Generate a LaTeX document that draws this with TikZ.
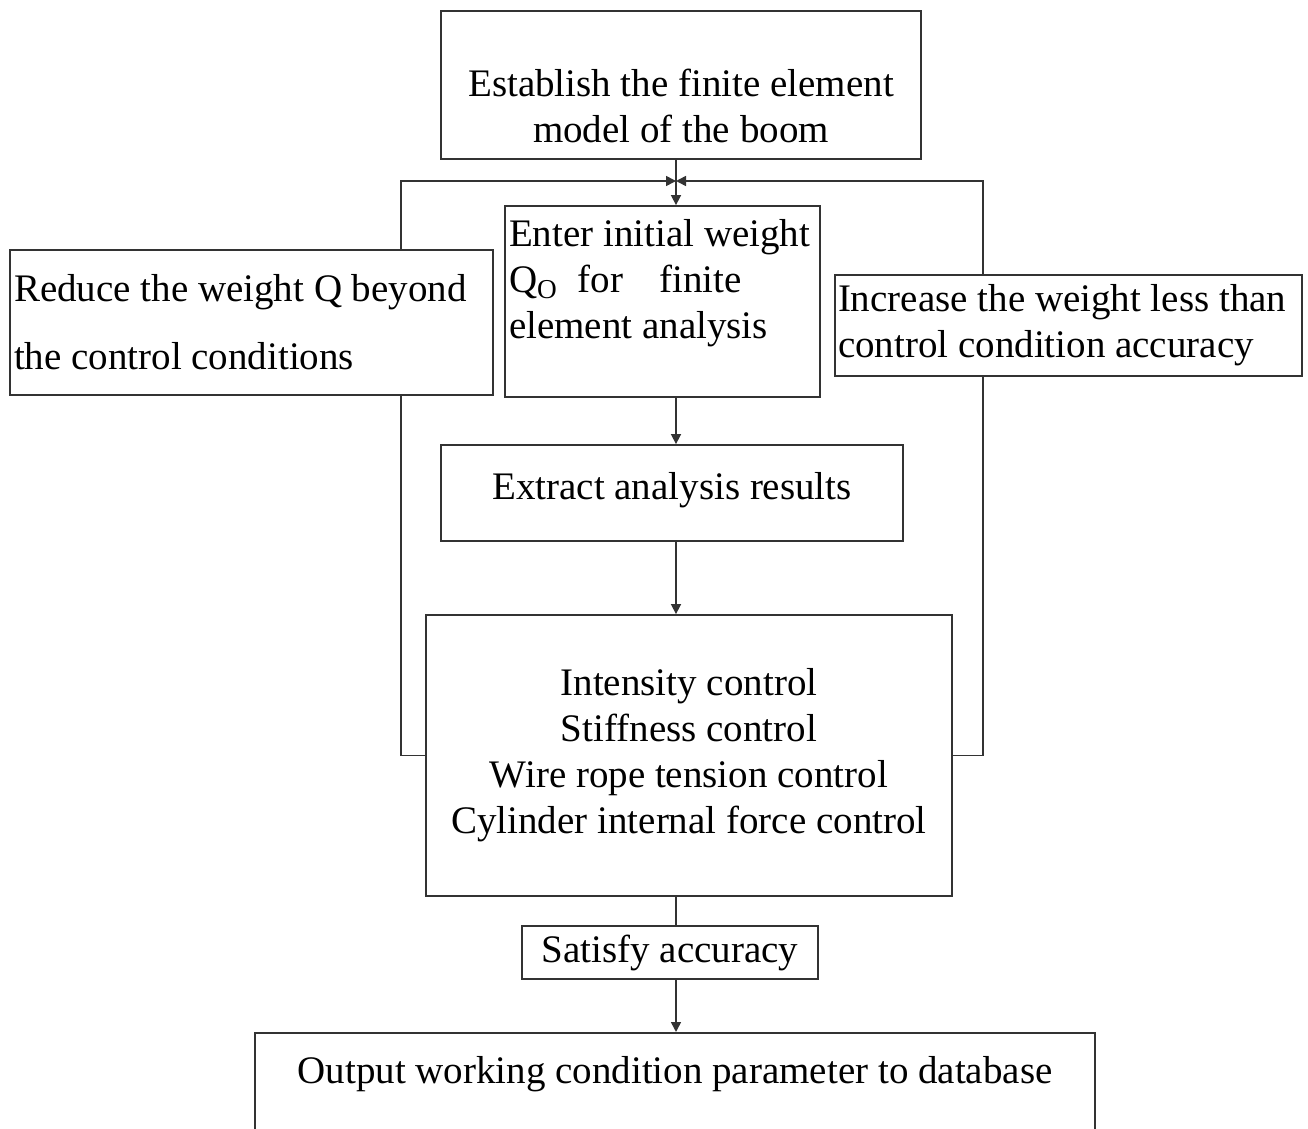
\documentclass[tikz,border=0pt]{standalone}
\usepackage{fontspec}
\setmainfont{Liberation Serif}
\usetikzlibrary{positioning,arrows.meta,backgrounds}

\begin{document}
\begin{tikzpicture}[x=0.5pt, y=-0.5pt,
  stepbox/.style={draw=black!80, fill=white, line width=0.9pt, inner sep=2pt,
    font=\fontsize{19.5}{23}\selectfont},
  sidebox/.style={stepbox, align=flush left, inner xsep=2pt},
  conn/.style={-{Triangle[length=5pt,width=5pt]}, line width=0.8pt, black!80},
  link/.style={line width=0.8pt, black!80},
]

\useasboundingbox (0,0) rectangle (1308,1129);

% === Main column ===
\node[stepbox, minimum width=240pt, minimum height=74pt, align=center] (model) at (681,85)
  {\rule{0pt}{12pt}\\Establish the finite element\\model of the boom};
\node[sidebox, text width=153.5pt, minimum height=95.5pt] (enter) at (662.5,301.5)
  {\mbox{Enter initial weight}\\\mbox{Q\textsubscript{O}\hspace{10pt}for\hspace{18pt}finite}\\\mbox{element analysis}\\\mbox{}};
\node[stepbox, minimum width=231pt, minimum height=48pt, text depth=7pt] (extract) at (672,493)
  {Extract analysis results};
\node[stepbox, minimum width=263pt, minimum height=140.5pt, align=center] (ctrl) at (689,755.5)
  {Intensity control\\Stiffness control\\Wire rope tension control\\Cylinder internal force control};
\node[stepbox, minimum width=148pt, minimum height=26.5pt] (satisfy) at (670,952.5)
  {Satisfy accuracy};
\node[stepbox, minimum width=420pt, text depth=40pt, inner ysep=12pt, anchor=north] (output) at (675,1032)
  {Output working condition parameter to database};

% === Side boxes ===
\node[sidebox, text width=237.5pt, minimum height=72.5pt,
  font=\fontsize{19.5}{34}\selectfont] (reduce) at (251.5,322.5)
  {\mbox{Reduce the weight Q beyond}\\\mbox{the control conditions}};
\node[sidebox, text width=230.5pt, inner xsep=1.5pt, minimum height=50.5pt] (increase) at (1068.5,325.5)
  {\mbox{Increase the weight less than}\\\mbox{control condition accuracy}};

% === Connectors ===
\coordinate (jn) at (676,181);
\coordinate (lx) at (401,181);
\coordinate (rx) at (983,181);

\draw[conn] (model.south -| jn) -- (enter.north -| jn);
\draw[conn] (enter.south -| jn) -- (extract.north -| jn);
\draw[conn] (extract.south -| jn) -- (ctrl.north -| jn);
\draw[link] (ctrl.south -| jn) -- (satisfy.north -| jn);
\draw[conn] (satisfy.south -| jn) -- (output.north -| jn);

% === Feedback loops ===
\begin{scope}[on background layer]
  \fill[white] (0,0) rectangle (1308,1129);
  \draw[conn] (ctrl.west) -| (lx) -- (jn);
  \draw[conn] (ctrl.east) -| (rx) -- (jn);
\end{scope}

\end{tikzpicture}
\end{document}
